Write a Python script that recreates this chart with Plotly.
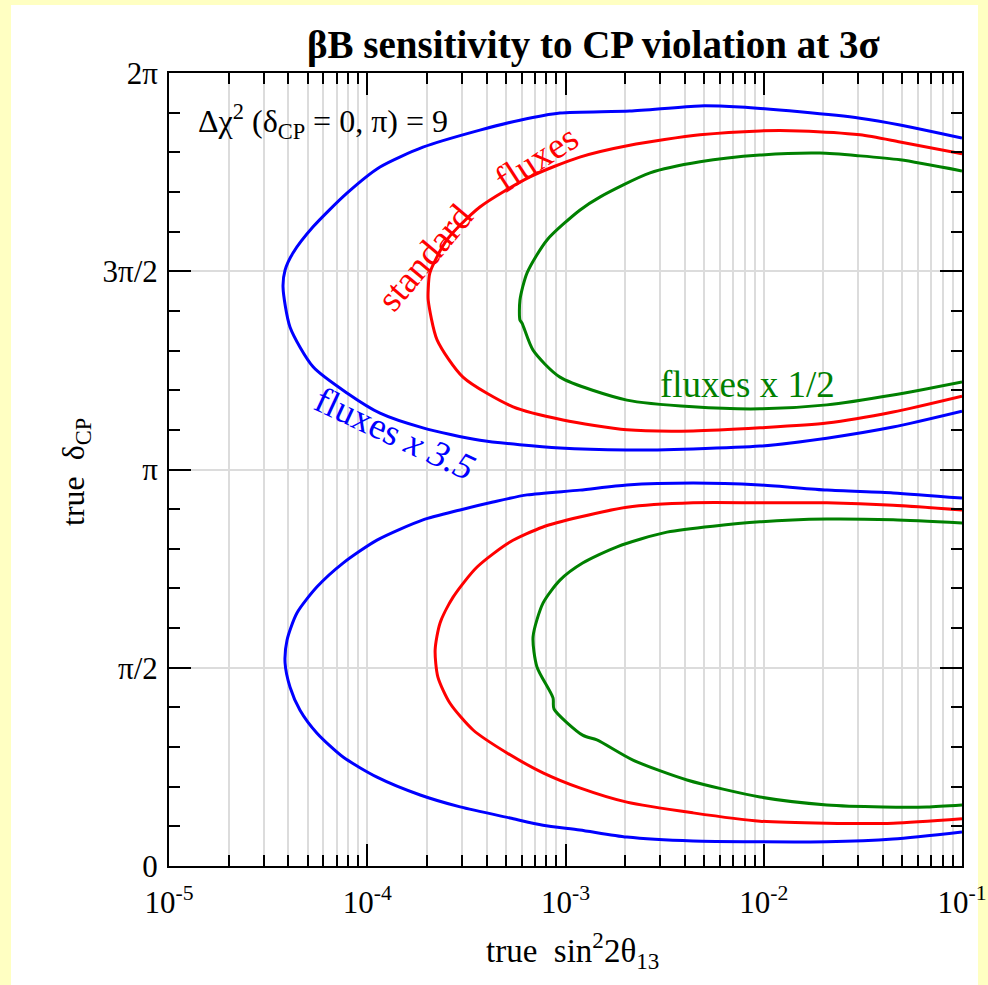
import math
import plotly.graph_objects as go

PI = math.pi

# ---------------- data (x = true sin^2 2theta13, y = true delta_CP in units of pi) -------------
blue_up_x = [0.1, 4.87e-2, 3.06e-2, 1.52e-2, 7.59e-3, 4.77e-3, 2.11e-3, 9.38e-4, 5.89e-4, 3.70e-4,
             1.91e-4, 1.16e-4, 7.9e-5, 5.33e-5, 4.22e-5, 3.85e-5, 3.76e-5, 4.08e-5, 5.33e-5, 7.9e-5,
             1.16e-4, 1.91e-4, 3.70e-4, 9.38e-4, 2.04e-3, 4.40e-3, 9.57e-3, 2.08e-2, 4.49e-2, 0.1]
blue_up_y = [1.836, 1.869, 1.886, 1.902, 1.914, 1.917, 1.904, 1.899, 1.881, 1.856,
             1.813, 1.763, 1.697, 1.612, 1.546, 1.503, 1.460, 1.359, 1.259, 1.193,
             1.142, 1.105, 1.074, 1.054, 1.049, 1.052, 1.059, 1.079, 1.107, 1.147]

blue_lo_x = [0.1, 4.49e-2, 2.08e-2, 9.57e-3, 4.40e-3, 2.04e-3, 1.18e-3, 6.40e-4, 4.31e-4, 2.94e-4,
             1.91e-4, 1.12e-4, 7.55e-5, 5.58e-5, 4.42e-5, 3.94e-5, 3.85e-5, 4.08e-5, 4.58e-5, 5.58e-5,
             7.55e-5, 1.12e-4, 1.85e-4, 2.94e-4, 5.25e-4, 7.70e-4, 1.18e-3, 2.04e-3, 4.40e-3, 9.57e-3,
             2.08e-2, 4.49e-2, 0.1]
blue_lo_y = [0.928, 0.941, 0.948, 0.961, 0.966, 0.961, 0.948, 0.936, 0.918, 0.898,
             0.873, 0.822, 0.764, 0.704, 0.638, 0.570, 0.512, 0.451, 0.393, 0.335,
             0.275, 0.224, 0.179, 0.149, 0.121, 0.103, 0.091, 0.073, 0.063, 0.061,
             0.061, 0.068, 0.086]

red_up_x = [0.1, 4.87e-2, 3.06e-2, 1.52e-2, 9.57e-3, 4.77e-3, 2.11e-3, 1.18e-3, 6.62e-4, 3.70e-4,
            2.52e-4, 2.07e-4, 2.03e-4, 2.03e-4, 2.25e-4, 3.04e-4, 5.44e-4, 9.71e-4, 2.04e-3, 4.40e-3,
            9.57e-3, 2.08e-2, 4.49e-2, 0.1]
red_up_y = [1.796, 1.826, 1.844, 1.854, 1.854, 1.844, 1.818, 1.788, 1.738, 1.662,
            1.579, 1.496, 1.453, 1.427, 1.327, 1.233, 1.158, 1.125, 1.100, 1.097,
            1.105, 1.117, 1.145, 1.185]

red_lo_x = [0.1, 4.49e-2, 2.08e-2, 9.57e-3, 4.40e-3, 2.04e-3, 1.18e-3, 7.70e-4, 5.25e-4, 3.58e-4,
            2.71e-4, 2.33e-4, 2.20e-4, 2.27e-4, 2.61e-4, 3.42e-4, 5.07e-4, 7.70e-4, 1.18e-3, 2.04e-3,
            4.40e-3, 9.57e-3, 2.08e-2, 4.49e-2, 0.1]
red_lo_y = [0.898, 0.910, 0.916, 0.916, 0.916, 0.905, 0.880, 0.855, 0.817, 0.754,
            0.678, 0.613, 0.545, 0.477, 0.411, 0.343, 0.285, 0.235, 0.197, 0.161,
            0.134, 0.113, 0.108, 0.108, 0.119]

green_up_x = [0.1, 4.87e-2, 3.06e-2, 1.92e-2, 9.57e-3, 4.77e-3, 2.67e-3, 1.49e-3, 1.18e-3, 8.07e-4,
              6.40e-4, 5.89e-4, 5.89e-4, 6.04e-4, 6.86e-4, 9.38e-4, 2.04e-3, 4.40e-3, 9.57e-3, 2.08e-2,
              4.49e-2, 0.1]
green_up_y = [1.753, 1.781, 1.791, 1.798, 1.793, 1.776, 1.748, 1.687, 1.654, 1.579,
              1.496, 1.427, 1.377, 1.369, 1.301, 1.233, 1.175, 1.158, 1.153, 1.163,
              1.188, 1.221]

green_lo_x = [0.1, 4.49e-2, 2.08e-2, 9.57e-3, 3.25e-3, 1.82e-3, 1.22e-3, 9.38e-4, 7.70e-4, 6.86e-4,
              7.18e-4, 8.65e-4, 8.75e-4, 1.22e-3, 1.44e-3, 2.19e-3, 4.10e-3, 9.57e-3, 2.08e-2, 4.00e-2,
              6.66e-2, 0.1]
green_lo_y = [0.865, 0.873, 0.875, 0.868, 0.842, 0.805, 0.764, 0.721, 0.663, 0.578,
              0.502, 0.424, 0.396, 0.330, 0.318, 0.267, 0.217, 0.174, 0.154, 0.149,
              0.149, 0.154]

x_tick_vals = [1e-5, 1e-4, 1e-3, 1e-2, 1e-1]
x_tick_text = ["10<sup>-5</sup>", "10<sup>-4</sup>", "10<sup>-3</sup>", "10<sup>-2</sup>", "10<sup>-1</sup>"]
y_tick_pi = [0, 0.5, 1, 1.5, 2]
y_tick_text = ["0", "π/2", "π", "3π/2", "2π"]

BLUE, RED, GREEN = "#0000FF", "#FF0000", "#008000"
FONT = "Liberation Serif, Times New Roman, serif"

fig = go.Figure()
for xs, ys, c in [(blue_up_x, blue_up_y, BLUE), (blue_lo_x, blue_lo_y, BLUE),
                  (red_up_x, red_up_y, RED), (red_lo_x, red_lo_y, RED),
                  (green_up_x, green_up_y, GREEN), (green_lo_x, green_lo_y, GREEN)]:
    fig.add_trace(go.Scatter(x=xs, y=[v * PI for v in ys], mode="lines",
                             line=dict(color=c, width=3, shape="spline", smoothing=0.7),
                             showlegend=False, hoverinfo="skip"))

minor_x = [m * 10 ** e for e in range(-5, -1) for m in range(2, 10)]
minor_y = [k * PI / 10 for k in range(21) if k % 5 != 0]

GRID = "#DCDCDC"
TICKFONT = dict(family=FONT, size=31, color="black")
fig.update_xaxes(type="log", range=[-5, -1], tickvals=x_tick_vals, ticktext=x_tick_text,
                 ticks="inside", ticklen=22, tickwidth=2, tickcolor="black",
                 showline=True, linecolor="black", linewidth=2, mirror="allticks",
                 showgrid=True, gridcolor=GRID, gridwidth=1.5, zeroline=False,
                 tickfont=TICKFONT, automargin=False, ticklabelstandoff=8,
                 minor=dict(tickvals=minor_x, ticks="inside", ticklen=11, tickwidth=2,
                            tickcolor="black", showgrid=True, gridcolor=GRID, gridwidth=1.5))
fig.update_yaxes(range=[0, 2 * PI], tickvals=[v * PI for v in y_tick_pi], ticktext=y_tick_text,
                 ticks="inside", ticklen=22, tickwidth=2, tickcolor="black",
                 showline=True, linecolor="black", linewidth=2, mirror="allticks",
                 showgrid=True, gridcolor=GRID, gridwidth=1.5, zeroline=False,
                 tickfont=TICKFONT, automargin=False, ticklabelstandoff=3,
                 minor=dict(tickvals=minor_y, ticks="inside", ticklen=11, tickwidth=2,
                            tickcolor="black", showgrid=False))

L, R, T, B = 169, 962, 73, 866
W = R - L
H = B - T


def px(xp):
    return (xp - L) / W


def py(yp):
    return (B - yp) / H


shapes = [dict(type="rect", xref="paper", yref="paper", x0=px(11), x1=px(978), y0=py(986), y1=py(5),
               fillcolor="white", line=dict(width=0), layer="below")]

ann = []


def label(text, x, y, size, color="black", angle=0, xanchor="center", xref="paper", yref="paper"):
    ann.append(dict(text=text, x=x, y=y, xref=xref, yref=yref, xanchor=xanchor, yanchor="middle",
                    textangle=angle, showarrow=False, font=dict(family=FONT, size=size, color=color)))


label("<b>βB sensitivity to CP violation at 3σ</b>", px(593), py(45), 39)
label("Δχ<sup>2</sup> (δ<sub>CP</sub> = 0, π) = 9", px(196), py(121), 32, xanchor="left")
label("true\u00a0 sin<sup>2</sup>2θ<sub>13</sub>", px(572), py(950), 33)
label("true\u00a0 δ<sub>CP</sub>", px(75), py(472), 32, angle=-90)
# curve labels (data coords; log axis takes log10)
label("standard", math.log10(1.95e-4), 1.535 * PI, 37, RED, -50, xref="x", yref="y")
label("fluxes", math.log10(7.1e-4), 1.785 * PI, 37, RED, -33, xref="x", yref="y")
label("fluxes x 1/2", math.log10(8.24e-3), 1.215 * PI, 37, GREEN, xref="x", yref="y")
label("fluxes <i>x 3.5</i>", math.log10(1.38e-4), 1.09 * PI, 37, BLUE, 25, xref="x", yref="y")

fig.update_layout(width=988, height=985, margin=dict(l=L, r=988 - R, t=T, b=985 - B, pad=0),
                  paper_bgcolor="#FFFFC2", plot_bgcolor="white", shapes=shapes, annotations=ann,
                  showlegend=False)
fig.write_html("out.html")
